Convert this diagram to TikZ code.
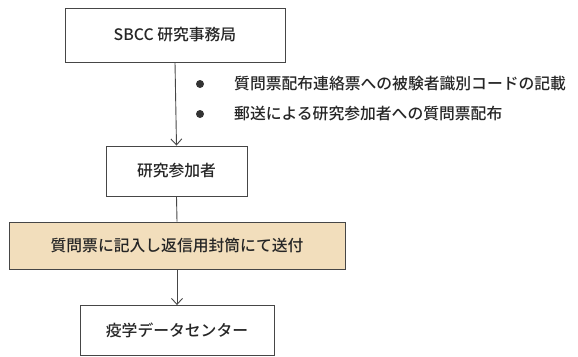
\documentclass[tikz,border=0pt]{standalone}
\usepackage{fontspec}
\setmainfont{Noto Sans CJK JP}[UprightFont={* Medium}]
\usetikzlibrary{arrows.meta}
\definecolor{tan}{RGB}{242,222,188}
\definecolor{edge}{RGB}{70,70,70}
\begin{document}
\begin{tikzpicture}[x=1pt,y=-1pt,
  box/.style={draw=edge,line width=0.9pt,inner sep=0pt,font=\fontsize{15.8}{18}\selectfont,text=black!85},
  conn/.style={draw=edge,line width=0.9pt},
  arr/.style={conn,-{Straight Barb[length=6pt,width=11pt,line width=0.9pt]}},
  bul/.style={font=\fontsize{15.8}{18}\selectfont,text=black!85,anchor=west,inner sep=0pt}]
\useasboundingbox (0,0) rectangle (578,356);
\node[box,minimum width=220pt,minimum height=54pt] (a) at (175,35) {SBCC 研究事務局};
\node[box,minimum width=141pt,minimum height=50pt] (b) at (176.5,171) {研究参加者};
\node[box,fill=tan,minimum width=336pt,minimum height=47pt] (c) at (177,245.5) {質問票に記入し返信用封筒にて送付};
\node[box,minimum width=194pt,minimum height=50pt] (d) at (177,330.5) {疫学データセンター};
\draw[arr] (a.south) -- (b.north);
\draw[conn] (b.south) -- (c.north);
\draw[arr] (c.south) -- (d.north);
\fill[black!80] (200,84) circle (4pt);
\fill[black!80] (200,114) circle (4pt);
\node[bul] (t1) at (234,84) {質問票配布連絡票への被験者識別コードの記載};
\node[bul] (t2) at (234,114) {郵送による研究参加者への質問票配布};
\end{tikzpicture}
\end{document}
